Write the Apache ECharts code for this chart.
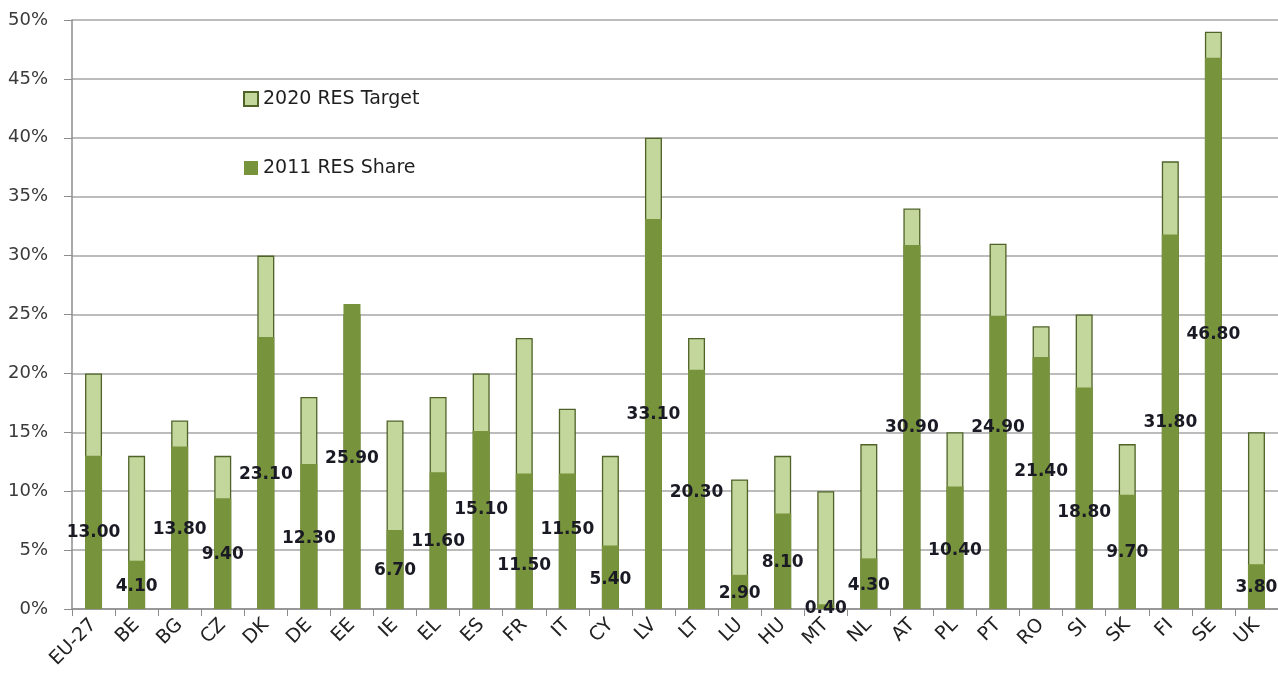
<!DOCTYPE html>
<html>
<head>
<meta charset="utf-8">
<script src="https://cdn.jsdelivr.net/npm/echarts@6/dist/echarts.min.js"></script>
<style>
html, body { margin: 0; padding: 0; background: #fff; }
#main { width: 1278px; height: 673px; }
</style>
</head>
<body>
<div id="main"></div>
<script>
var countries = ['EU-27','BE','BG','CZ','DK','DE','EE','IE','EL','ES','FR','IT','CY','LV','LT','LU','HU','MT','NL','AT','PL','PT','RO','SI','SK','FI','SE','UK'];
var share2011 = [13.0,4.1,13.8,9.4,23.1,12.3,25.9,6.7,11.6,15.1,11.5,11.5,5.4,33.1,20.3,2.9,8.1,0.4,4.3,30.9,10.4,24.9,21.4,18.8,9.7,31.8,46.8,3.8];
var target2020 = [20,13,16,13,30,18,25,16,18,20,23,17,13,40,23,11,13,10,14,34,15,31,24,25,14,38,49,15];
// height (in %) at which each share value label sits in the original
var labelAt = [6.45,1.87,6.7,4.6,11.4,6.0,12.8,3.3,5.7,8.4,3.7,6.7,2.5,16.5,9.9,1.35,3.9,0,2.0,15.4,5.0,15.4,11.7,8.2,4.75,15.8,23.3,1.8];
var yTicks = [0,5,10,15,20,25,30,35,40,45,50];

var chart = echarts.init(document.getElementById('main'));
var font = '"DejaVu Sans", sans-serif';

var labelData = countries.map(function (c, i) {
    return [i, labelAt[i], share2011[i]];
});

var option = {
    animation: false,
    grid: { left: 72, right: 0, top: 20, bottom: 64 },
    legend: {
        orient: 'vertical',
        left: 238,
        top: 84,
        itemGap: 49,
        itemWidth: 14,
        itemHeight: 14,
        icon: 'rect',
        textStyle: { fontSize: 19, lineHeight: 20, color: '#1f1f1f', fontFamily: font },
        data: ['2020 RES Target', '2011 RES Share']
    },
    xAxis: {
        type: 'category',
        data: countries,
        axisLine: { lineStyle: { color: '#8c8c8c', width: 1.5 } },
        axisTick: { show: true, length: 7, lineStyle: { color: '#8c8c8c' } },
        axisLabel: { rotate: 45, fontSize: 19, color: '#222', margin: 13, fontFamily: font, interval: 0 }
    },
    yAxis: {
        type: 'value',
        min: yTicks[0],
        max: yTicks[yTicks.length - 1],
        interval: 5,
        axisLine: { show: true, lineStyle: { color: '#8c8c8c', width: 1.5 } },
        axisTick: { show: true, length: 8, lineStyle: { color: '#8c8c8c' } },
        axisLabel: { formatter: '{value}%', fontSize: 18, color: '#3a3a3a', margin: 24, fontFamily: font },
        splitLine: { lineStyle: { color: '#a6a6a6', width: 1.5 } }
    },
    series: [
        {
            name: '2020 RES Target',
            type: 'bar',
            data: target2020,
            barWidth: 17,
            barGap: '-100%',
            itemStyle: { color: '#c3d69b', borderColor: '#4f6228', borderWidth: 1.3 }
        },
        {
            name: '2011 RES Share',
            type: 'bar',
            data: share2011,
            barWidth: 17,
            itemStyle: { color: '#77933c' }
        },
        {
            name: 'labels',
            type: 'scatter',
            data: labelData,
            symbolSize: 0,
            silent: true,
            clip: false,
            z: 5,
            itemStyle: { opacity: 1 },
            label: {
                show: true,
                position: 'inside',
                color: '#1a1a24',
                fontSize: 17,
                fontWeight: 'bold',
                fontFamily: font,
                formatter: function (p) { return p.value[2].toFixed(2); }
            }
        }
    ]
};

chart.setOption(option);
</script>
</body>
</html>
